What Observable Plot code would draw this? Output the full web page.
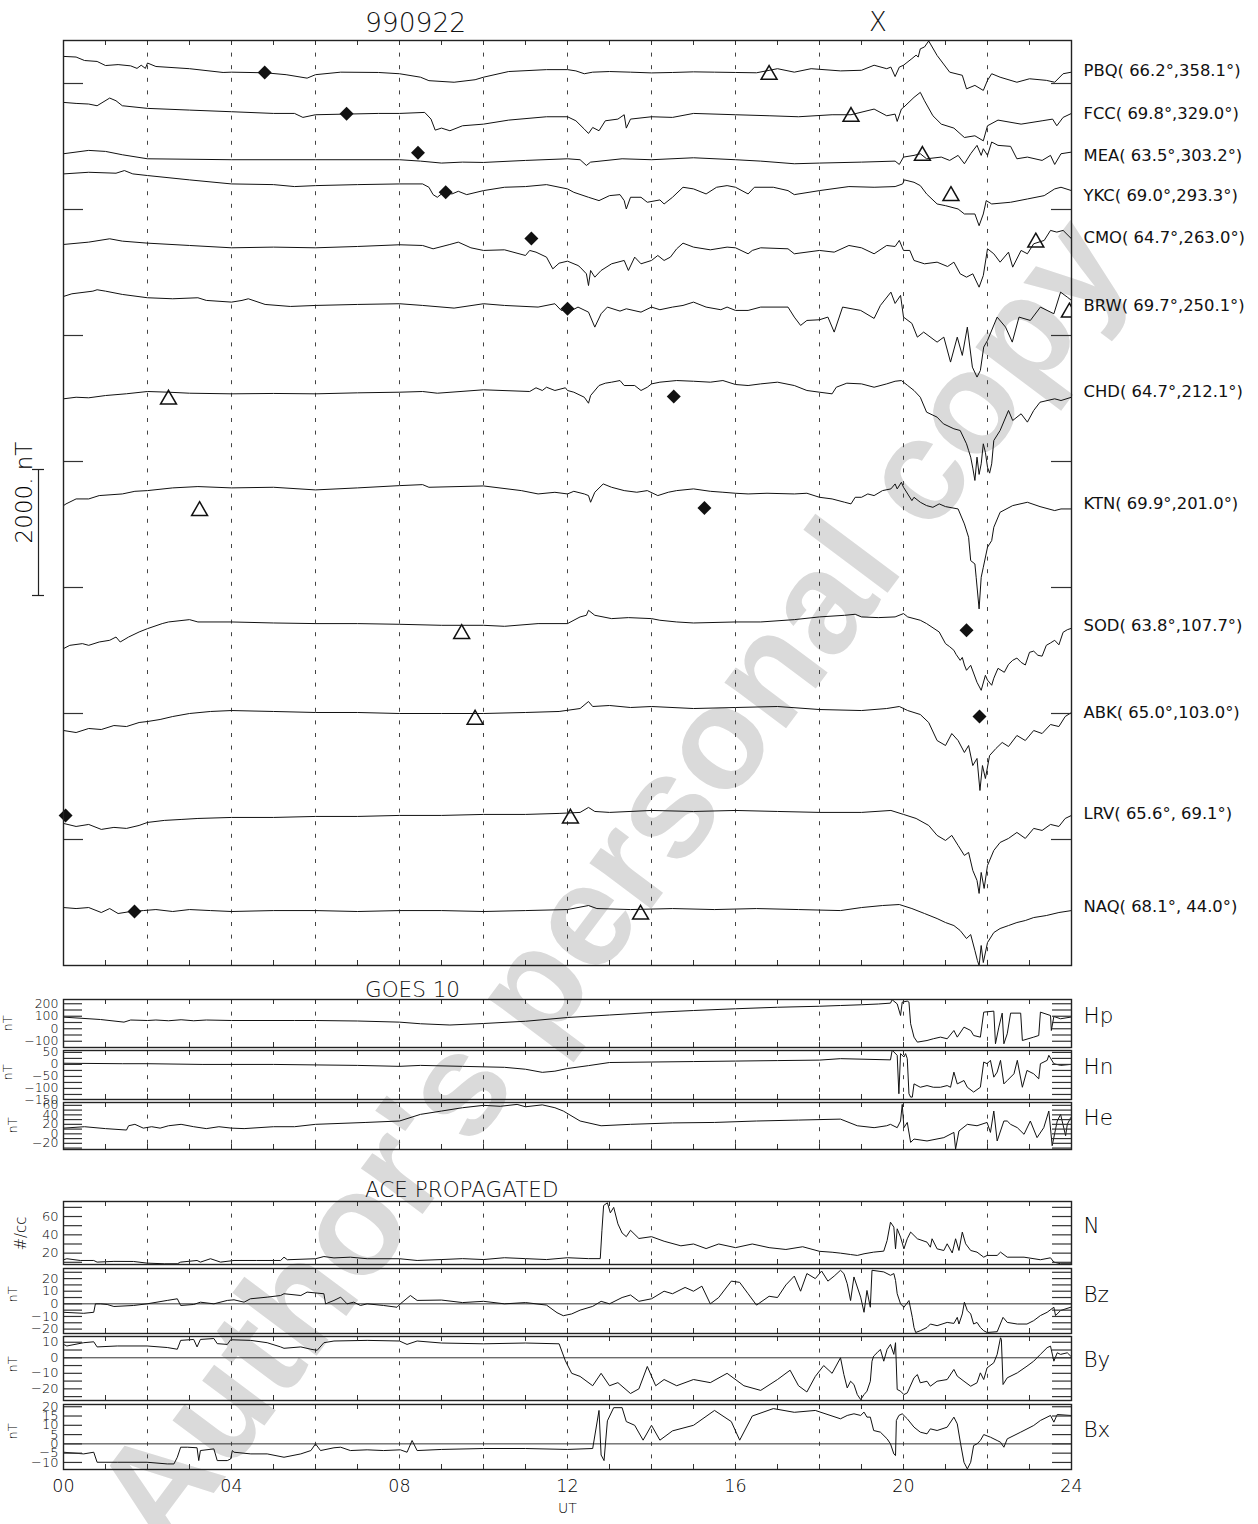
<!DOCTYPE html>
<html><head><meta charset="utf-8">
<script src="https://cdn.jsdelivr.net/npm/d3@7"></script>
<script src="https://cdn.jsdelivr.net/npm/@observablehq/plot@0.6"></script>
<style>
body{margin:0;background:#fff;}
#root{position:relative;width:1258px;height:1524px;overflow:hidden;background:#fff;}
#root > svg{position:absolute;left:0;}
</style></head><body><div id="root"></div>
<script>
// ---------- data ----------
const stations = ["PBQ","FCC","MEA","YKC","CMO","BRW","CHD","KTN","SOD","ABK","LRV","NAQ"];
const lats = [66.2,69.8,63.5,69.0,64.7,69.7,64.7,69.9,63.8,65.0,65.6,68.1];
const lons = [358.1,329.0,303.2,293.3,263.0,250.1,212.1,201.0,107.7,103.0,69.1,44.0];
const offsets = [14430,13700,12885,12565,11445,10620,8995,7300,5030,3730,2255,920];
const labelLevels = [14206,13524,12857,12222,11556,10476,9100,7333,5397,4016,2413,937];
const gridTicks = [2000,4000,6000,8000,10000,12000,14000];
const scaleBar = [5873, 7873];
const xLabelHours = [0,4,8,12,16,20,24];

const PBQ = [[0,0],[0.3,-10],[0.5,-65],[0.8,-80],[1.0,-145],[1.3,-130],[1.6,-150],[1.75,-190],[1.85,-140],[1.95,-190],[2.0,-105],[2.2,-160],[3.0,-195],[3.8,-255],[4.0,-250],[4.8,-260],[5.3,-290],[5.8,-345],[6.0,-290],[6.6,-250],[7.5,-255],[8.0,-275],[8.5,-330],[8.7,-385],[9.3,-410],[9.8,-370],[10.0,-330],[10.6,-240],[11.5,-210],[12.0,-210],[12.2,-230],[12.4,-275],[12.6,-250],[13.0,-240],[13.5,-250],[14.0,-262],[14.5,-255],[15.0,-245],[15.5,-250],[16.0,-255],[16.5,-260],[17.0,-195],[17.4,-250],[17.8,-195],[18.5,-230],[19.0,-220],[19.3,-140],[19.6,-195],[19.7,-170],[19.8,-320],[19.9,-170],[20.0,-140],[20.2,-35],[20.3,20],[20.35,-10],[20.4,120],[20.5,150],[20.6,245],[20.8,15],[21.1,-250],[21.4,-300],[21.5,-515],[21.7,-460],[21.9,-540],[22.0,-380],[22.1,-275],[22.3,-330],[22.7,-410],[23.0,-355],[23.4,-380],[23.6,-410],[23.8,-275],[24.0,-250]];
const FCC = [[0,0],[0.3,-16],[0.6,-26],[0.8,-53],[1.1,69],[1.25,26],[1.4,-53],[2,-95],[3,-122],[4,-148],[5,-175],[5.5,-175],[5.7,-238],[6,-196],[6.7,-186],[7.5,-175],[8,-175],[8.6,-159],[8.75,-265],[8.85,-440],[9,-408],[9.2,-450],[9.5,-371],[10,-345],[10.6,-281],[11.5,-228],[12,-228],[12.2,-292],[12.4,-424],[12.5,-493],[12.6,-398],[12.75,-450],[12.9,-292],[13.2,-265],[13.35,-196],[13.4,-408],[13.5,-265],[14,-228],[14.5,-238],[15,-175],[16,-196],[16.8,-212],[17.5,-228],[18.3,-196],[18.75,-196],[19.3,-106],[19.6,-212],[19.8,-186],[19.85,-302],[19.95,-106],[20,-80],[20.25,80],[20.4,159],[20.5,26],[20.7,-212],[20.9,-345],[21.2,-408],[21.45,-557],[21.7,-530],[21.9,-610],[22,-371],[22.25,-281],[22.8,-345],[23.3,-292],[23.55,-265],[23.65,-371],[23.8,-238],[24,-175]];
const MEA = [[0,0],[0.6,53],[1.0,37],[1.4,-16],[2,-80],[4,-95],[6,-95],[8,-95],[8.5,-117],[9,-148],[9.5,-133],[10,-138],[11,-106],[12,-80],[12.3,-95],[12.45,-186],[12.55,-133],[13.3,-80],[14,-95],[15,-64],[16,-95],[16.6,-117],[17.4,-159],[18,-148],[19,-133],[19.8,-117],[19.9,-170],[20.0,-53],[20.25,-26],[20.4,0],[20.55,-80],[20.9,-53],[21.1,-106],[21.3,-26],[21.45,-159],[21.6,0],[21.75,133],[21.85,-26],[21.9,80],[22.0,-26],[22.1,186],[22.25,133],[22.55,117],[22.7,-80],[22.95,-53],[23.3,-106],[23.5,-26],[23.6,-170],[23.75,0],[24,26]];
const YKC = [[0,0],[0.6,26],[1.25,11],[1.45,53],[1.65,0],[2,-26],[3,-95],[4,-159],[5,-170],[5.5,-201],[6,-186],[7,-170],[8,-159],[8.55,-159],[8.7,-212],[8.8,-329],[8.9,-371],[9.05,-292],[9.25,-318],[9.4,-276],[9.6,-329],[10,-265],[10.5,-212],[11,-201],[11.5,-170],[12,-238],[12.15,-292],[12.5,-371],[12.75,-424],[13,-345],[13.25,-329],[13.35,-424],[13.4,-557],[13.5,-371],[13.75,-371],[13.9,-450],[14.2,-413],[14.3,-477],[14.5,-371],[14.75,-212],[15,-238],[15.3,-318],[15.55,-212],[15.8,-186],[16,-212],[16.3,-318],[16.45,-212],[16.9,-212],[17.25,-265],[17.4,-329],[18,-265],[18.7,-201],[19.3,-212],[19.8,-201],[19.98,-159],[20.02,-95],[20.25,-133],[20.4,-186],[20.55,-318],[20.8,-477],[21,-504],[21.3,-557],[21.45,-636],[21.7,-636],[21.8,-822],[21.9,-636],[21.97,-424],[22.1,-477],[22.55,-450],[22.95,-398],[23.35,-345],[23.6,-238],[23.75,-212],[24,-265]];
const CMO = [[0,0],[0.6,37],[1.1,90],[1.4,53],[2,21],[3,-16],[4,-53],[5,-42],[6,-53],[7,-32],[8,-5],[8.55,-16],[8.8,-69],[9.2,0],[9.4,37],[9.7,-53],[10,-95],[10.5,-85],[11,-175],[11.1,-95],[11.25,-122],[11.5,-201],[11.65,-387],[11.8,-297],[12,-265],[12.25,-334],[12.3,-360],[12.45,-466],[12.5,-652],[12.55,-413],[12.65,-519],[12.8,-413],[13.05,-307],[13.35,-254],[13.45,-413],[13.6,-201],[13.75,-307],[14,-254],[14.15,-175],[14.3,-254],[14.45,-201],[14.6,-69],[14.75,21],[15,-42],[15.4,-85],[15.8,-42],[16,-53],[16.3,-148],[16.4,-95],[16.6,-53],[17.25,-69],[17.4,-148],[18,-95],[18.35,-122],[18.7,-16],[19,-53],[19.3,-148],[19.6,-16],[19.8,-32],[19.9,64],[20,-95],[20.15,-95],[20.25,-254],[20.5,-307],[20.8,-281],[21.05,-350],[21.2,-281],[21.35,-466],[21.5,-519],[21.65,-466],[21.8,-678],[21.9,-493],[22,-69],[22.15,-148],[22.3,-281],[22.5,-122],[22.6,-360],[22.8,-95],[22.95,-148],[23.1,11],[23.35,64],[23.5,223],[23.65,196],[23.8,223],[24,90]];
const BRW = [[0,0],[0.2,42],[0.7,84],[0.8,106],[1.0,84],[1.4,32],[2,-21],[2.6,-37],[3.2,-21],[3.4,-63],[4,-90],[4.25,-63],[4.4,-37],[4.8,-127],[5.4,-159],[6,-143],[7,-127],[8,-116],[8.55,-143],[9.3,-185],[10,-116],[10.5,-143],[11.3,-169],[11.7,-116],[11.85,-222],[12.0,-196],[12.1,-222],[12.25,-169],[12.5,-249],[12.65,-487],[12.8,-275],[12.95,-169],[13.25,-233],[13.4,-196],[13.75,-249],[14,-169],[14.2,-211],[14.5,-169],[14.75,-143],[15,-90],[15.3,-169],[15.65,-211],[15.8,-169],[16,-222],[16.3,-222],[16.6,-169],[17.25,-169],[17.4,-328],[17.55,-460],[17.7,-381],[18,-370],[18.2,-328],[18.35,-566],[18.55,-169],[18.98,-222],[19.3,-349],[19.45,-143],[19.7,68],[19.8,-111],[19.93,16],[20.0,-328],[20.2,-428],[20.33,-646],[20.48,-566],[20.8,-725],[20.96,-646],[21.12,-1042],[21.28,-646],[21.4,-936],[21.52,-487],[21.64,-1122],[21.75,-1280],[21.83,-1175],[21.91,-804],[22.0,-698],[22.23,-328],[22.43,-487],[22.59,-725],[22.75,-328],[23.02,-381],[23.26,-169],[23.58,-275],[23.74,68],[23.9,-11],[24,-63]];
const CHD = [[0,0],[0.3,25],[0.6,16],[1,52],[1.5,80],[2,116],[2.5,105],[3,89],[4,79],[5,85],[6,79],[7,95],[8,105],[8.55,116],[8.9,89],[10,143],[11.1,116],[11.25,175],[11.4,132],[11.5,184],[11.7,132],[11.95,175],[12,132],[12.15,105],[12.4,25],[12.5,-70],[12.55,52],[12.75,211],[12.9,248],[13.05,264],[13.25,290],[13.35,211],[13.6,211],[13.75,132],[13.9,184],[14,237],[14.2,264],[14.6,290],[15,279],[15.4,264],[15.7,290],[16,227],[16.3,211],[16.6,237],[17,264],[17.4,211],[17.7,132],[18,105],[18.3,79],[18.4,184],[18.65,248],[19,237],[19.3,184],[19.6,237],[19.8,279],[19.95,290],[20.1,211],[20.25,132],[20.4,25],[20.55,-212],[20.8,-291],[20.95,-397],[21.2,-476],[21.35,-503],[21.5,-714],[21.55,-820],[21.6,-926],[21.65,-1100],[21.7,-1296],[21.75,-926],[21.8,-1200],[21.85,-1032],[21.9,-714],[21.95,-850],[22,-1085],[22.05,-1180],[22.1,-1032],[22.15,-661],[22.3,-503],[22.5,-185],[22.6,-344],[22.8,-238],[22.95,-370],[23.1,-185],[23.25,-54],[23.6,0],[23.75,-27],[24,25]];
const KTN = [[0,0],[0.06,27],[0.3,106],[0.6,106],[0.85,159],[1.4,185],[1.7,227],[2,238],[2.6,281],[3.2,302],[4,281],[5,291],[6,249],[7,281],[8,317],[8.55,333],[8.7,291],[10,312],[10.9,238],[11.3,185],[11.7,211],[12,185],[12.15,227],[12.4,185],[12.5,159],[12.55,53],[12.65,212],[12.85,344],[13.05,291],[13.35,238],[13.65,212],[13.9,238],[14.15,159],[14.4,212],[14.6,238],[15,265],[15.4,227],[15.7,212],[16,196],[16.3,185],[16.75,196],[17.4,185],[17.7,196],[18,132],[18.3,106],[18.6,53],[18.75,27],[18.85,132],[19,132],[19.15,185],[19.3,159],[19.5,238],[19.7,265],[19.8,344],[19.85,265],[19.95,370],[20,291],[20.2,79],[20.25,132],[20.4,53],[20.55,0],[20.7,-27],[20.85,27],[21,-16],[21.3,-53],[21.45,-291],[21.55,-503],[21.6,-873],[21.7,-926],[21.73,-1138],[21.8,-1640],[21.85,-1138],[21.9,-979],[22,-661],[22.1,-555],[22.15,-344],[22.3,-106],[22.6,0],[22.95,53],[23.25,-16],[23.6,-79],[23.75,-53],[24,-53]];
const SOD = [[0,0],[0.15,52],[0.45,79],[0.6,52],[0.85,105],[1.1,132],[1.25,184],[1.35,105],[1.55,184],[1.8,264],[2,317],[2.35,397],[2.5,423],[3,460],[3.2,423],[4,423],[5,407],[6,397],[7,397],[8,386],[9,370],[10,370],[10.5,354],[11.3,397],[12,397],[12.3,503],[12.45,529],[12.5,608],[12.65,529],[13.05,476],[13.45,492],[14,476],[14.2,450],[14.6,423],[15,407],[16,423],[16.6,423],[17.4,460],[18,503],[18.6,529],[18.85,545],[19,503],[19.4,492],[19.8,503],[20,556],[20.1,503],[20.4,450],[20.55,397],[20.85,264],[21,79],[21.1,30],[21.2,-27],[21.25,-90],[21.35,-186],[21.4,-140],[21.45,-260],[21.5,-344],[21.6,-265],[21.75,-535],[21.85,-662],[21.95,-424],[22.0,-500],[22.1,-582],[22.15,-470],[22.25,-313],[22.4,-376],[22.5,-250],[22.6,-186],[22.7,-150],[22.8,-218],[22.9,-260],[23,-59],[23.1,-40],[23.2,-106],[23.3,-120],[23.4,52],[23.5,90],[23.6,132],[23.7,60],[23.8,259],[23.9,300],[24,322]];
const ABK = [[0,0],[0.3,-32],[0.6,32],[0.9,16],[1.2,79],[1.5,63],[1.8,127],[2.0,143],[2.3,175],[2.6,222],[3.0,270],[3.5,302],[4.0,317],[5.0,302],[6.0,286],[7.0,286],[8.0,270],[9.0,270],[10.0,270],[11.0,286],[11.8,302],[12.3,349],[12.5,460],[12.6,381],[13.0,397],[13.5,365],[14.0,381],[15.0,349],[16.0,365],[17.0,381],[18.0,333],[19.0,317],[19.6,349],[19.9,381],[20.1,317],[20.4,254],[20.6,127],[20.8,-159],[21.0,-238],[21.15,-48],[21.3,-159],[21.45,-349],[21.55,-238],[21.65,-556],[21.75,-444],[21.82,-952],[21.88,-556],[21.95,-762],[22.05,-397],[22.2,-286],[22.35,-190],[22.5,-254],[22.7,-79],[22.9,-159],[23.1,0],[23.3,-48],[23.5,95],[23.7,63],[23.85,222],[24.0,286]];
const LRV = [[0,0],[0.3,-48],[0.6,-16],[0.9,-95],[1.2,-63],[1.5,-79],[1.8,-32],[2.0,16],[2.4,48],[2.8,63],[3.2,79],[4.0,95],[5.0,95],[6.0,111],[7.0,111],[8.0,127],[9.0,127],[10.0,143],[11.0,143],[11.8,159],[12.3,175],[12.5,254],[12.65,190],[13.0,175],[14.0,206],[15.0,190],[16.0,206],[17.0,190],[18.0,175],[19.0,175],[19.7,206],[20.0,143],[20.3,79],[20.6,-32],[20.8,-190],[21.0,-270],[21.15,-190],[21.3,-349],[21.45,-508],[21.55,-460],[21.65,-746],[21.75,-905],[21.8,-1111],[21.85,-778],[21.92,-1032],[22.0,-667],[22.15,-429],[22.3,-302],[22.5,-238],[22.7,-143],[22.9,-238],[23.1,-79],[23.3,-111],[23.5,-16],[23.7,-48],[23.85,79],[24.0,127]];
const NAQ = [[0,0],[0.3,-16],[0.6,0],[0.9,-79],[1.1,-16],[1.3,-95],[1.6,-63],[1.9,-48],[2.2,-32],[2.6,-63],[3.0,-32],[3.5,-48],[4.0,-63],[5.0,-48],[6.0,-48],[7.0,-63],[8.0,-48],[9.0,-48],[10.0,-63],[11.0,-48],[12.0,-32],[12.5,32],[12.7,-16],[13.5,-32],[14.5,-16],[15.5,-32],[16.5,-16],[17.5,-32],[18.5,-48],[19.0,0],[19.5,32],[19.9,48],[20.2,-16],[20.5,-95],[20.8,-175],[21.0,-238],[21.2,-286],[21.35,-365],[21.5,-492],[21.6,-429],[21.7,-683],[21.76,-841],[21.8,-921],[21.85,-603],[21.9,-873],[22.0,-556],[22.15,-397],[22.3,-333],[22.5,-286],[22.7,-238],[22.9,-206],[23.1,-159],[23.4,-127],[23.7,-79],[24.0,-48]];
const traces = [PBQ,FCC,MEA,YKC,CMO,BRW,CHD,KTN,SOD,ABK,LRV,NAQ];

// onset markers: station, kind (d = diamond, t = triangle), hour, value (nT relative to station)
const markers = [["PBQ","d",4.79,-254],["PBQ","t",16.8,-259],["FCC","d",6.74,-180],["FCC","t",18.75,-196],["MEA","d",8.44,16],["MEA","t",20.45,0],["YKC","d",9.1,-292],["YKC","t",21.13,-318],["CMO","d",11.14,95],["CMO","t",23.15,64],["BRW","d",12.0,-196],["BRW","t",23.95,-222],["CHD","t",2.5,21],["CHD","d",14.53,37],["KTN","t",3.24,-53],["KTN","d",15.26,-37],["SOD","t",9.48,265],["SOD","d",21.5,290],["ABK","t",9.8,206],["ABK","d",21.81,222],["LRV","d",0.05,127],["LRV","t",12.07,111],["NAQ","d",1.69,-64],["NAQ","t",13.74,-79]];

// GOES 10
const Hp = [[0,93],[0.88,74],[1.44,53],[1.6,70],[2.0,66],[2.2,70],[2.5,64],[2.8,72],[3.1,64],[3.4,70],[4.0,66],[5.5,66],[6.0,66],[7.0,62],[8.0,53],[8.5,40],[9.2,30],[10.0,42],[11.0,60],[12.0,90],[13.0,110],[14.0,130],[15.0,146],[16.0,160],[17.0,172],[18.0,180],[18.5,186],[19.0,192],[19.4,198],[19.69,205],[19.73,232],[19.85,199],[19.93,106],[19.97,213],[20.09,221],[20.13,213],[20.17,40],[20.25,-67],[20.33,-107],[20.56,-94],[20.71,-80],[20.88,-67],[21.04,-80],[21.2,-14],[21.28,-67],[21.44,13],[21.6,-14],[21.67,-54],[21.83,-67],[21.91,133],[22.15,141],[22.19,-120],[22.27,13],[22.35,125],[22.39,-120],[22.47,-40],[22.55,125],[22.79,125],[22.83,-94],[23.1,-67],[23.22,-54],[23.26,133],[23.5,106],[23.52,-14],[23.58,98],[23.74,80],[23.98,93]];
const Hn = [[0,5],[1.4,3],[2.0,3],[3.3,0],[5.0,0],[6,-2],[7,-4],[8.0,-8],[8.5,-4],[9.5,-8],[10.5,-12],[11.0,-20],[11.4,-33],[11.7,-28],[12.0,-17],[12.5,-5],[13.0,8],[14,10],[15,12],[16,14],[17,16],[18,18],[18.5,24],[19.69,19],[19.73,59],[19.85,38],[19.89,-122],[19.93,45],[20.01,31],[20.05,45],[20.09,24],[20.13,-122],[20.17,-136],[20.21,-136],[20.25,-81],[20.4,-95],[20.56,-88],[20.71,-95],[20.88,-95],[21.04,-88],[21.12,-95],[21.2,-32],[21.28,-81],[21.44,-67],[21.52,-95],[21.67,-115],[21.83,-95],[21.91,10],[21.99,3],[22.07,17],[22.15,-53],[22.23,-32],[22.31,17],[22.39,-81],[22.47,-67],[22.63,-39],[22.71,17],[22.83,-95],[22.94,-25],[23.1,-39],[23.22,-60],[23.26,3],[23.42,17],[23.46,38],[23.58,3],[23.74,-4],[23.98,0]];
const He = [[0,12],[0.5,15],[1.0,11],[1.5,8],[1.55,17],[1.7,20],[1.9,12],[2.1,15],[2.3,12],[2.5,17],[2.8,20],[3.1,15],[3.4,11],[3.7,15],[4.0,12],[4.3,11],[5.0,15],[5.5,15],[6.0,20],[7.2,24],[8.0,27],[8.5,41],[9.0,48],[9.5,55],[10.0,60],[10.4,58],[10.8,62],[11.0,57],[11.4,61],[11.7,55],[11.9,48],[12.3,27],[12.8,17],[13.5,20],[14.5,23],[15.5,24],[16.5,27],[17.5,29],[18.5,31],[18.9,17],[19.3,13],[19.6,17],[19.69,20],[19.85,13],[19.93,27],[19.97,62],[20.01,13],[20.09,24],[20.17,-18],[20.25,-11],[20.56,-15],[20.96,-8],[21.2,3],[21.24,-32],[21.32,6],[21.52,20],[21.75,17],[21.99,24],[22.07,3],[22.15,48],[22.23,-15],[22.39,27],[22.47,27],[22.55,20],[22.71,13],[22.87,-1],[23.02,27],[23.18,-8],[23.34,13],[23.46,48],[23.54,-25],[23.66,27],[23.74,41],[23.86,-4],[23.9,20],[23.98,34]];

// ACE propagated
const N = [[0,12.8],[0.08,13.9],[0.4,12],[0.72,12],[0.8,10.2],[1.2,11],[1.67,10.9],[1.99,9.1],[2.4,8.4],[2.71,8.4],[2.79,10.2],[3.18,12],[3.26,10.2],[3.5,13.9],[3.74,10.2],[4.06,12],[4.6,12],[5.17,12],[5.25,15.6],[5.33,12.8],[6.0,13.9],[6.2,16.3],[6.44,14.8],[6.83,15.6],[7.23,13.9],[8.0,13.9],[8.42,12],[9.0,13],[9.5,14],[10.0,13],[10.5,15],[11.0,14],[11.5,13],[12.0,15],[12.5,14],[12.78,14],[12.82,45],[12.86,72],[12.95,75],[13.02,64],[13.1,70],[13.2,52],[13.3,42],[13.4,38],[13.5,45],[13.7,36],[14.0,38],[14.3,33],[14.7,28],[15.0,30],[15.3,25],[15.6,30],[16.0,26],[16.4,30],[16.8,26],[17.2,24],[17.6,27],[18.0,22],[18.3,21],[18.5,20],[18.74,18.5],[18.9,17.5],[19.06,19.3],[19.29,21.1],[19.53,22.2],[19.61,33.8],[19.69,53.8],[19.77,48.4],[19.81,24.7],[19.85,46.6],[19.93,37.5],[20.01,24.7],[20.09,35.7],[20.17,43],[20.33,35.7],[20.56,32],[20.64,26.5],[20.68,35.7],[20.8,24.7],[20.96,22.9],[21.04,30.2],[21.16,20.2],[21.24,35.7],[21.32,22.9],[21.4,43],[21.48,30.2],[21.6,22.9],[21.75,21.1],[21.91,15.6],[21.99,17.5],[22.23,17.5],[22.31,21.1],[22.47,15.6],[22.87,15.6],[23.26,12.8],[23.5,14.9],[23.58,10.2],[23.74,8.4],[23.98,8.4]];
const Bz = [[0,-6.7],[0.48,-7.5],[0.72,-6.7],[0.76,0],[0.88,0],[1.04,-0.5],[1.2,-2.1],[1.67,-1.3],[1.99,0],[2.47,2.7],[2.71,4],[2.79,-1.3],[3.1,-0.5],[3.26,1.3],[3.58,0],[3.9,2.7],[4.06,3.2],[4.3,1.3],[4.45,4],[4.85,5.3],[5.17,6.6],[5.25,8],[5.65,6.6],[5.8,9.3],[6.04,8.5],[6.2,8],[6.24,0],[6.44,2.7],[6.6,5.3],[6.75,0],[6.91,1.3],[7.07,-1.3],[7.23,0],[7.62,-1.3],[7.94,-2.7],[8.02,0],[8.26,6.6],[8.42,2.7],[9.0,3],[9.5,1],[10.0,2],[10.5,0],[11.0,1],[11.5,-1],[11.75,-7],[11.9,-9.4],[12.1,-8],[12.3,-5],[12.6,-2],[12.8,2],[13.0,0],[13.3,5],[13.5,7],[13.7,2],[14.0,4],[14.3,10],[14.5,8],[14.8,13],[15.0,10],[15.2,14],[15.4,0],[15.6,5],[15.9,18],[16.1,17],[16.3,8],[16.5,-1],[16.8,6],[17.0,5],[17.2,15],[17.4,22],[17.55,10],[17.7,24],[17.9,20],[18.05,26],[18.2,18],[18.35,22],[18.5,26.6],[18.58,24],[18.66,16],[18.74,2.6],[18.82,21.3],[18.98,5.3],[19.06,-6.7],[19.13,10.6],[19.21,-2.7],[19.25,26.6],[19.53,25.3],[19.69,22.6],[19.77,24],[19.81,18.6],[19.85,8],[19.93,0],[20.01,-2.7],[20.13,2.6],[20.21,-10.7],[20.25,-18.7],[20.29,-22.7],[20.4,-21.3],[20.56,-18.7],[20.64,-16],[20.8,-17.3],[21.04,-14.7],[21.2,-15.5],[21.28,-10.7],[21.32,-16],[21.4,-8],[21.45,1.3],[21.52,-5.3],[21.6,-8],[21.67,-16],[21.75,-14.7],[21.83,-18.7],[21.91,-21.3],[21.99,-22.7],[22.23,-22.1],[22.37,-10.7],[22.47,-14.7],[22.71,-16],[22.94,-16],[23.1,-13.3],[23.26,-9.3],[23.42,-6.7],[23.58,-2.7],[23.62,-9.3],[23.74,-5.3],[23.98,-2.7]];
const By = [[0,8.6],[0.08,7.6],[0.48,9.7],[0.72,10.3],[0.8,7.0],[1.28,7.6],[1.99,7.6],[2.47,6.6],[2.71,5.5],[2.79,11.2],[3.1,11.8],[3.18,7.0],[3.26,11.8],[3.58,12.4],[3.66,9.1],[3.9,8.6],[3.98,11.6],[4.46,11.2],[4.85,9.7],[5.17,7.0],[5.25,6.1],[5.65,7.0],[5.89,5.5],[6.04,4.8],[6.2,9.7],[6.44,10.8],[7.23,11.2],[8.0,10.8],[8.18,8.6],[8.42,10.8],[9.0,9.5],[10.0,9],[11.0,9.5],[11.8,9],[11.95,-2],[12.1,-10],[12.3,-12],[12.6,-18],[12.8,-10],[13.0,-18],[13.2,-16],[13.5,-23],[13.7,-20],[13.9,-5.6],[14.1,-18],[14.3,-14],[14.6,-18],[15.0,-14],[15.4,-16],[15.8,-10],[16.2,-18],[16.6,-21],[17.0,-14],[17.3,-8],[17.5,-18],[17.7,-22],[17.9,-12],[18.1,-5],[18.3,-10],[18.5,0],[18.58,-10.8],[18.66,-19.4],[18.74,-15.1],[18.82,-17.2],[18.9,-23.7],[18.98,-26.9],[19.06,-23.7],[19.13,-21.5],[19.21,-15.1],[19.25,-2.2],[19.29,1.1],[19.37,3.2],[19.45,5.4],[19.53,-2.2],[19.61,5.4],[19.69,8.6],[19.77,2.2],[19.81,9.7],[19.85,-20.4],[19.93,-21.5],[20.01,-23.7],[20.09,-22.6],[20.25,-12.9],[20.33,-10.8],[20.4,-16.1],[20.56,-15.1],[20.64,-18.3],[20.8,-15.1],[21.04,-14],[21.2,-7.5],[21.28,-11.8],[21.44,-15.1],[21.6,-18.3],[21.75,-16.1],[21.83,-9.7],[21.91,-14],[21.99,-6.5],[22.15,-3.2],[22.23,2.2],[22.31,12.9],[22.33,11.8],[22.37,-17.2],[22.47,-12.9],[22.71,-9.7],[22.94,-5.4],[23.1,-2.2],[23.26,2.2],[23.42,6.5],[23.5,7.5],[23.58,-2.2],[23.66,3.2],[23.74,2.2],[23.9,3.2],[23.98,1.1]];
const Bx = [[0,-4.5],[0.48,-5.4],[0.72,-4.5],[0.8,-9.9],[1.28,-9.9],[1.99,-9.9],[2.47,-10.8],[2.63,-10.8],[2.71,-7.2],[2.79,-1.8],[2.95,-1.8],[3.18,-2.1],[3.22,-9.0],[3.26,-3.6],[3.58,-2.7],[3.66,-9.0],[3.9,-9.0],[3.98,-8.1],[4.02,-3.6],[4.06,-4.5],[4.46,-5.4],[4.85,-5.4],[5.25,-7.2],[5.65,-5.4],[5.89,-3.6],[6.0,0],[6.12,-3.6],[6.44,-2.1],[6.6,-1.8],[6.83,-3.6],[7.23,-3.2],[7.62,-3.6],[8.02,-3.2],[8.18,-4.5],[8.3,1.8],[8.42,-3.6],[9.0,-3],[10.0,-2.5],[11.0,-2.5],[12.0,-3],[12.6,-2.5],[12.75,18],[12.8,-6],[12.87,-9],[12.95,12.4],[13.1,19.5],[13.3,19.5],[13.4,12],[13.6,10],[13.8,2],[14.0,10],[14.2,2],[14.5,7],[15.0,10],[15.5,18],[15.9,12],[16.1,2],[16.4,15],[16.9,19],[17.4,17],[17.9,18],[18.5,13.5],[18.66,15.3],[18.82,16.2],[18.98,15.3],[19.06,17.1],[19.13,14.4],[19.21,14.4],[19.29,7.2],[19.45,6.3],[19.61,2.7],[19.69,0],[19.77,-5.4],[19.81,-6.3],[19.83,12.6],[19.89,15.3],[19.97,16.2],[20.09,13.5],[20.25,9.0],[20.4,6.3],[20.56,5.4],[20.64,8.1],[20.8,7.2],[21.04,9.0],[21.2,14.4],[21.28,10.8],[21.36,0],[21.44,-9.9],[21.52,-13.5],[21.6,-9.9],[21.67,-0.9],[21.75,0],[21.83,1.8],[21.91,5.0],[22.07,3.6],[22.23,1.8],[22.31,0.9],[22.39,-1.8],[22.47,2.7],[22.79,6.3],[23.1,9.9],[23.26,12.6],[23.5,15.3],[23.58,11.7],[23.66,15.8],[23.98,15.3]];

// ---------- layout / style ----------
const W = 1258, ML = 63, MR = 187;
const PXH = 42; // px per hour
const hourTicks = d3.range(1, 24);
const dashHours = d3.range(2, 24, 2);
const thin = {fontFamily: "DejaVu Sans", fontWeight: 200, fill: "#000"};
const root = document.getElementById("root");
const fmt = d => (d < 0 ? "\u2212" + Math.abs(d) : String(d));

// overlay: watermark + titles (behind the plots)
const ov = d3.create("svg").attr("width", W).attr("height", 1524).style("top", "0px");
ov.append("text").attr("transform", "translate(124,1526) rotate(-53.2)").attr("dy", "0.36em")
  .attr("font-family", "Liberation Sans, Arial, sans-serif").attr("font-weight", "bold")
  .attr("font-size", 145).attr("fill", "#dadada").text("Author's personal copy");
const title = (x, y, s, size, anchor) => ov.append("text").attr("x", x).attr("y", y)
  .attr("font-family", "DejaVu Sans").attr("font-weight", 200).attr("font-size", size)
  .attr("fill", "#111").attr("text-anchor", anchor || "start").text(s);
title(365, 32, "990922", 26.5);
title(878, 31, "X", 26, "middle");
title(365, 997, "GOES 10", 21.5);
title(365, 1197, "ACE PROPAGATED", 21.5);
root.appendChild(ov.node());

// ---------- main magnetometer panel ----------
const mainTop = 40, mainH = 925;
const yMax = mainH / 126 * 2000;
const mainData = stations.flatMap((s, i) => traces[i].map(([t, v]) => ({station: s, t, v: offsets[i] + v})));
const markerData = markers.map(([s, k, t, v]) => ({k, t, v: offsets[stations.indexOf(s)] + v}));
const labelText = stations.map((s, i) => `${s}(${lats[i].toFixed(1).padStart(5)}\u00b0,${lons[i].toFixed(1).padStart(5)}\u00b0)`);
const tl = 20 / PXH;
const hl = 5 * yMax / mainH;
const mainPlot = Plot.plot({
  width: W, height: mainTop + mainH + 15,
  marginLeft: ML, marginRight: MR, marginTop: mainTop, marginBottom: 15,
  x: {domain: [0, 24], axis: null},
  y: {domain: [0, yMax], axis: null},
  style: {background: "transparent", overflow: "visible"},
  marks: [
    Plot.ruleX(dashHours, {stroke: "#444", strokeWidth: 1, strokeDasharray: "4,8.6"}),
    Plot.line(mainData, {x: "t", y: "v", z: "station", stroke: "#111", strokeWidth: 1, clip: true}),
    Plot.dot(markerData.filter(d => d.k === "d"), {x: "t", y: "v", symbol: "diamond2", r: 6.3, fill: "#111", stroke: "none"}),
    Plot.dot(markerData.filter(d => d.k === "t"), {x: "t", y: "v", symbol: "triangle2", r: 7.6, fill: "none", stroke: "#111", strokeWidth: 1.5, dy: 2, clip: true}),
    Plot.ruleY(gridTicks, {x1: 0, x2: tl, stroke: "#333", strokeWidth: 1.2}),
    Plot.ruleY(gridTicks, {x1: 24 - tl, x2: 24, stroke: "#333", strokeWidth: 1.2}),
    Plot.ruleX(hourTicks, {y1: yMax, y2: yMax - hl, stroke: "#333"}),
    Plot.ruleX(hourTicks, {y1: 0, y2: hl, stroke: "#333"}),
    Plot.frame({stroke: "#222", strokeWidth: 1.4}),
    Plot.text(labelText, {x: 24, y: (d, i) => labelLevels[i], text: d => d, dx: 12, textAnchor: "start", fontSize: 16.4, fontFamily: "DejaVu Sans", fill: "#111"}),
    Plot.ruleX([-25 / PXH], {y1: scaleBar[0], y2: scaleBar[1], stroke: "#222", strokeWidth: 1.2}),
    Plot.ruleY(scaleBar, {x1: -31 / PXH, x2: -19 / PXH, stroke: "#222", strokeWidth: 1.2}),
    Plot.text(["2000. nT"], {x: -39 / PXH, y: (965 - 492) * 2000 / 126, text: d => d, rotate: -90, fontSize: 23, ...thin})
  ]
});
mainPlot.style.top = "0px";
root.appendChild(mainPlot);

// ---------- small panels ----------
function panel(cfg) {
  const {data, top, h, domain, ticks, labels, name, nameY, unit, unitX, unitY, unitSize, zero, labelSize, bottom} = cfg;
  const mt = 10, mb = bottom ? 62 : 10;
  const span = domain[1] - domain[0];
  const py = px => domain[1] - (px - top) / h * span;
  const tlen = 19 / PXH, hlen = 5 / h * span;
  const marks = [
    Plot.ruleX(dashHours, {stroke: "#444", strokeWidth: 1, strokeDasharray: "4,8.6"}),
    zero ? Plot.ruleY([0], {stroke: "#333", strokeWidth: 1}) : null,
    Plot.line(data, {x: d => d[0], y: d => d[1], stroke: "#111", strokeWidth: 1, clip: true}),
    Plot.ruleY(ticks, {x1: 0, x2: tlen, stroke: "#333", strokeWidth: 1.2}),
    Plot.ruleY(ticks, {x1: 24 - tlen, x2: 24, stroke: "#333", strokeWidth: 1.2}),
    Plot.ruleX(hourTicks, {y1: domain[1], y2: domain[1] - hlen, stroke: "#333"}),
    Plot.ruleX(hourTicks, {y1: domain[0], y2: domain[0] + hlen, stroke: "#333"}),
    Plot.frame({stroke: "#222", strokeWidth: 1.4}),
    Plot.text(labels, {x: 0, y: d => d, text: fmt, dx: -5, textAnchor: "end", fontSize: labelSize || 13, ...thin}),
    Plot.text([name], {x: 24, y: py(nameY), text: d => d, dx: 12, textAnchor: "start", fontSize: 21.5, ...thin}),
    Plot.text([unit || "nT"], {x: (unitX - ML) / PXH, y: py(unitY), text: d => d, rotate: -90, fontSize: unitSize || 13, ...thin})
  ];
  if (bottom) {
    marks.push(Plot.text(xLabelHours, {x: d => d, text: d => String(d).padStart(2, "0"), frameAnchor: "bottom", dy: 22, fontSize: 17.5, ...thin}));
    marks.push(Plot.text(["UT"], {x: 12, text: d => d, frameAnchor: "bottom", dy: 43, fontSize: 14, ...thin}));
  }
  const p = Plot.plot({
    width: W, height: h + mt + mb,
    marginLeft: ML, marginRight: MR, marginTop: mt, marginBottom: mb,
    x: {domain: [0, 24], axis: null},
    y: {domain, axis: null},
    style: {background: "transparent", overflow: "visible"},
    marks: marks.filter(Boolean)
  });
  p.style.top = (top - mt) + "px";
  root.appendChild(p);
}

panel({data: Hp, top: 999, h: 48, domain: [-150, 234], ticks: [-100,-50,0,50,100,150,200], labels: [200,100,0,-100], name: "Hp", nameY: 1016, unitX: 7, unitY: 1023, labelSize: 12.5});
panel({data: Hn, top: 1050, h: 49, domain: [-146, 58], ticks: [-125,-100,-75,-50,-25,0,25,50], labels: [50,0,-50,-100,-150], name: "Hn", nameY: 1067, unitX: 7, unitY: 1072, labelSize: 12.5});
panel({data: He, top: 1102, h: 47, domain: [-33, 66], ticks: [-30,-20,-10,0,10,20,30,40,50,60], labels: [60,40,20,0,-20], name: "He", nameY: 1118, unitX: 12, unitY: 1125, labelSize: 12.5});
panel({data: N, top: 1201, h: 63, domain: [7.6, 76.4], ticks: [10,20,30,40,50,60,70], labels: [20,40,60], name: "N", nameY: 1226, unit: "#/cc", unitX: 21, unitY: 1233, unitSize: 15});
panel({data: Bz, top: 1268, h: 65, domain: [-23.5, 28], ticks: [-20,-15,-10,-5,0,5,10,15,20,25], labels: [20,10,0,-10,-20], name: "Bz", nameY: 1295, unitX: 12, unitY: 1294, zero: true});
panel({data: By, top: 1336, h: 64, domain: [-27.5, 13.7], ticks: [-25,-20,-15,-10,-5,0,5,10], labels: [10,0,-10,-20], name: "By", nameY: 1360, unitX: 12, unitY: 1364, zero: true});
panel({data: Bx, top: 1404, h: 65, domain: [-13.8, 21.2], ticks: [-10,-5,0,5,10,15,20], labels: [20,15,10,5,0,-5,-10], name: "Bx", nameY: 1430, unitX: 12, unitY: 1431, zero: true, bottom: true});
</script></body></html>
